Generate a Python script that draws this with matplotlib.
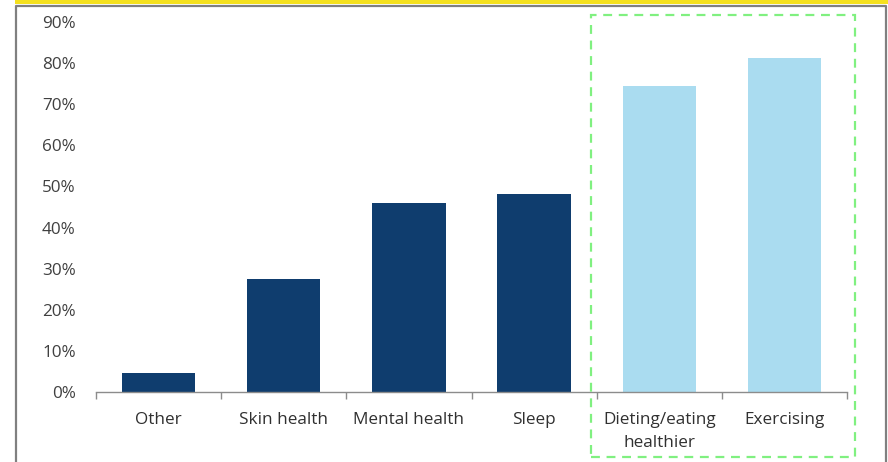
import matplotlib
matplotlib.use("Agg")
import matplotlib.pyplot as plt
from matplotlib.patches import Rectangle
from matplotlib.lines import Line2D
import numpy as np

categories = ["Other", "Skin health", "Mental health", "Sleep", "Dieting/eating\nhealthier", "Exercising"]
values = [0.046, 0.275, 0.46, 0.482, 0.745, 0.813]
colors = ["#0f3d6e", "#0f3d6e", "#0f3d6e", "#0f3d6e", "#aadcf0", "#aadcf0"]
yticks = [0, 0.1, 0.2, 0.3, 0.4, 0.5, 0.6, 0.7, 0.8, 0.9]
ytick_labels = ["0%", "10%", "20%", "30%", "40%", "50%", "60%", "70%", "80%", "90%"]

plt.rcParams['font.family'] = ['Open Sans', 'DejaVu Sans']

W, H = 888, 462
fig = plt.figure(figsize=(W/100, H/100), dpi=100)
ax = fig.add_axes([96/W, 1-392/H, (847-96)/W, (392-22)/H])

x = np.arange(len(categories))
ax.bar(x, values, width=0.585, color=colors)
ax.set_xlim(-0.5, len(categories)-0.5)
ax.set_ylim(0, 0.9)
ax.set_yticks(yticks)
ax.set_yticklabels(ytick_labels)
ax.set_xticks(x)
ax.set_xticklabels(categories, linespacing=1.6)
ax.set_xticks(np.arange(-0.5, len(categories)), minor=True)
ax.tick_params(axis='x', which='major', length=0, pad=14.5, labelsize=12.3, labelcolor='#303030')
ax.tick_params(axis='x', which='minor', length=5, color='#8c8c8c', width=1)
ax.tick_params(axis='y', length=0, pad=14.5, labelsize=12.3, labelcolor='#404040')
for s in ['top', 'right', 'left']:
    ax.spines[s].set_visible(False)
ax.spines['bottom'].set_color('#8c8c8c')
ax.spines['bottom'].set_linewidth(1)

# yellow top band and gray border
fig.add_artist(Rectangle((15/W, 1-3.5/H), 1, 3.5/H, transform=fig.transFigure, color='#f5e11e', lw=0))
fig.add_artist(Line2D([15.5/W, 15.5/W, 886/W, 886/W], [0, 1-6/H, 1-6/H, 0], transform=fig.transFigure,
                      color='#808080', lw=1.6))
# green dashed box
fig.add_artist(Rectangle((591/W, 1-457/H), (855-591)/W, (457-15)/H, transform=fig.transFigure,
                         fill=False, edgecolor='#80f080', lw=1.6, linestyle=(0, (4, 3))))

fig.savefig("out.png", dpi=100)
